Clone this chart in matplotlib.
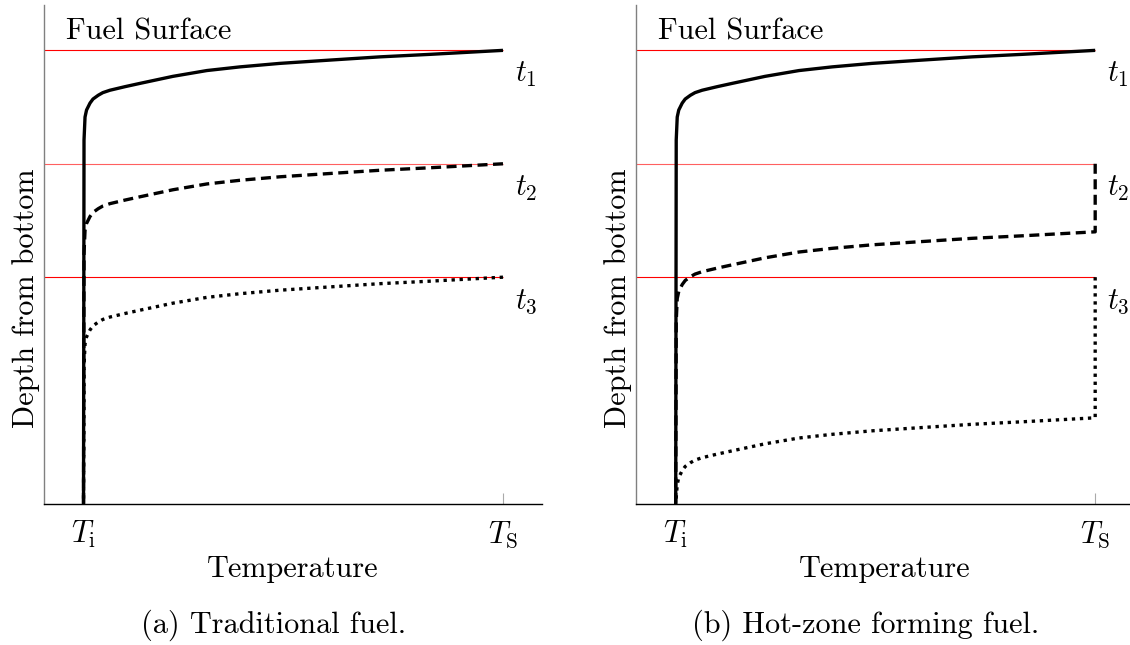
import numpy as np
import matplotlib
matplotlib.use('Agg')
import matplotlib.pyplot as plt
from matplotlib import transforms

plt.rcParams['font.family'] = 'cmr10'
plt.rcParams['mathtext.fontset'] = 'cm'
plt.rcParams['axes.formatter.use_mathtext'] = True

# ── Data ──────────────────────────────────────────────────────────────────────
# normalised temperature: T_i = 0, T_S = 1; depth from bottom in arbitrary units
T_I, T_S = 0.0, 1.0
TICK_LABELS = [r'$T_\mathrm{i}$', r'$T_\mathrm{S}$']

# temperature profile below the hot end (same shape for every time step)
profile_temp = [1.0, 0.826, 0.707, 0.588, 0.468, 0.373, 0.294, 0.213, 0.135,
                0.099, 0.063, 0.046, 0.035, 0.0226, 0.0155, 0.0072, 0.0036,
                0.0012]
profile_drop = [0.0, 0.088, 0.143, 0.214, 0.287, 0.364, 0.445, 0.573, 0.727,
                0.800, 0.879, 0.932, 0.990, 1.073, 1.162, 1.316, 1.470,
                1.977]

step_labels = ['$t_1$', '$t_2$', '$t_3$']
surface_levels = [10.0, 7.5, 5.0]
# depth where the T_S end of each profile sits
profile_top_a = [10.0, 7.5, 5.0]
profile_top_b = [10.0, 6.0, 1.9]

captions = ['(a) Traditional fuel.', '(b) Hot-zone forming fuel.']

# ── Style ─────────────────────────────────────────────────────────────────────
FS = 21.8
LW = 2.4
line_styles = ['-', (0, (3.0, 1.65)), (0, (1.0, 1.41))]
surface_colors = ['#ff0000', '#ff6060', '#ff0000']
XMIN, XMAX = -0.0954, 1.093

fig = plt.figure(figsize=(11.3, 6.45), dpi=100)
ax_a = fig.add_axes([43.5 / 1130, 141 / 645, 498.5 / 1130, 499 / 645])
ax_b = fig.add_axes([635.7 / 1130, 141 / 645, 498.5 / 1130, 499 / 645])

for ax, tops, caption in [(ax_a, profile_top_a, captions[0]),
                          (ax_b, profile_top_b, captions[1])]:
    ax.set_xlim(XMIN, XMAX)
    ax.set_ylim(0, 11)
    for side in ('top', 'right'):
        ax.spines[side].set_visible(False)
    ax.spines['left'].set_color('#808080')
    ax.spines['left'].set_linewidth(1.0)
    ax.spines['bottom'].set_color('black')
    ax.spines['bottom'].set_linewidth(1.0)

    ax.set_xticks([T_I, T_S], TICK_LABELS)
    ax.set_yticks([])
    ax.tick_params(axis='x', direction='in', length=8, width=0.8,
                   color='#aaaaaa', pad=11, labelsize=FS)

    # fuel surface at each time step
    for lvl, col in zip(surface_levels, surface_colors):
        ax.hlines(lvl, XMIN, T_S, color=col, lw=0.8, zorder=1)

    # temperature profiles; a drop at T_S joins surface and profile top
    for lvl, top, ls in zip(surface_levels, tops, line_styles):
        xs = [T_S]
        ys = [lvl]
        for t, d in zip(profile_temp, profile_drop):
            if top - d > 0:
                xs.append(T_I + (T_S - T_I) * t)
                ys.append(top - d)
        xs.append(T_I)
        ys.append(0.0)
        ax.plot(xs, ys, color='black', lw=LW, ls=ls,
                solid_capstyle='butt', dash_capstyle='butt',
                solid_joinstyle='round', zorder=3)

    for lvl, lab in zip(surface_levels, step_labels):
        ax.text(1.029, lvl - 0.70, lab, fontsize=FS, va='baseline', ha='left')

    ax.text(-0.042, 10.24, 'Fuel Surface', fontsize=FS, va='baseline', ha='left')

    ax.set_xlabel('Temperature', fontsize=FS)
    ax.xaxis.set_label_coords(0.5, -0.1463)
    ax.xaxis.label.set_va('baseline')

    ax.set_ylabel('Depth from bottom', fontsize=FS)
    ax.yaxis.set_label_coords(-0.019, 0.413)
    ax.yaxis.label.set_va('baseline')

    trans = transforms.blended_transform_factory(ax.transData, fig.transFigure)
    ax.text((XMIN + T_S) / 2, 0.0186, caption, fontsize=FS, transform=trans,
            ha='center', va='baseline')

fig.savefig('out.png', dpi=100)
